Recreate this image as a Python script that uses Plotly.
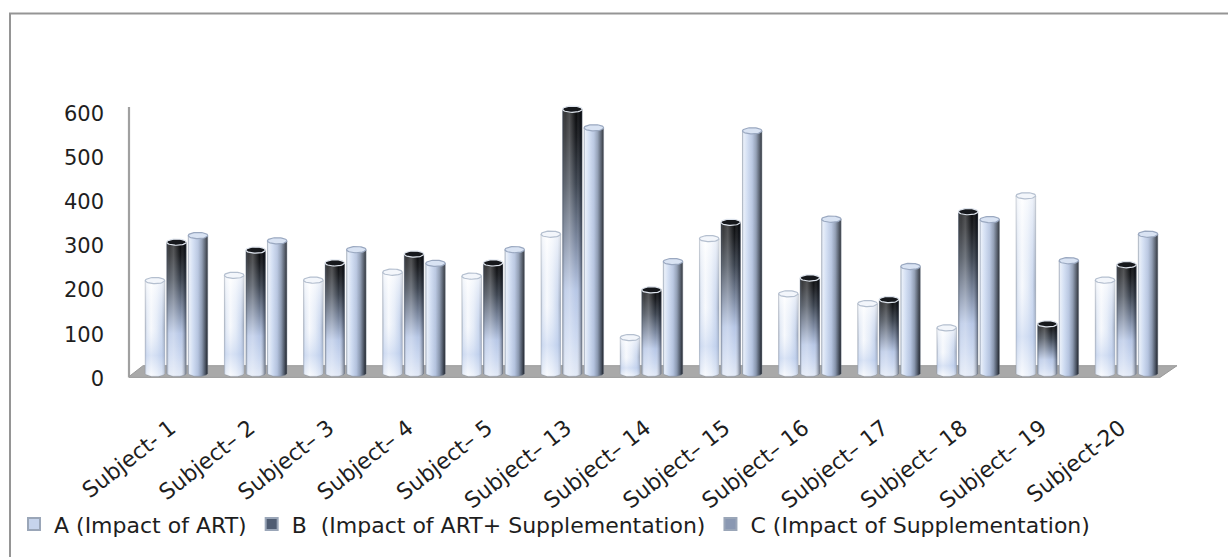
import numpy as np
import plotly.graph_objects as go

# ---- data -------------------------------------------------------------
subjects = ["Subject- 1", "Subject– 2", "Subject– 3", "Subject– 4", "Subject– 5",
            "Subject– 13", "Subject– 14", "Subject– 15", "Subject– 16", "Subject– 17",
            "Subject– 18", "Subject– 19", "Subject-20"]
impact_art = [210, 222, 211, 229, 220, 315, 81, 305, 180, 158, 103, 402, 211]
impact_art_supp = [297, 279, 250, 270, 250, 598, 189, 342, 216, 167, 366, 112, 246]
impact_supp = [312, 300, 280, 249, 280, 556, 253, 549, 349, 242, 348, 255, 315]
y_ticks = [0, 100, 200, 300, 400, 500, 600]
series_names = ["A (Impact of ART)",
                "B  (Impact of ART+ Supplementation)",
                "C (Impact of Supplementation)"]

# ---- geometry / style --------------------------------------------------
FONT = "DejaVu Sans"
TXT = "#1e1e1e"
X_RANGE = [-0.6, 12.637]
Y_RANGE = [-40, 612]
MARGIN = dict(l=129, r=51, t=103, b=158)
PLOT_H = 557 - MARGIN["t"] - MARGIN["b"]
UNITS_PER_PX = (Y_RANGE[1] - Y_RANGE[0]) / PLOT_H

BAR_W = 0.246          # cylinder width in category units
PITCH = 0.2716         # distance between cylinders of one group
CAP_H = 3.2 * UNITS_PER_PX   # half height of the elliptical caps

# shading of the cylinders
A_BODY = [[0.0, "#a7b2c3"], [0.08, "#e2e9f4"], [0.3, "#ffffff"],
          [0.6, "#e6edf8"], [0.85, "#c4d2eb"], [1.0, "#8794aa"]]
A_OVER = [[0.0, "rgba(245,248,253,0.55)"], [0.22, "rgba(190,207,238,0.55)"],
          [0.5, "rgba(225,233,247,0.25)"], [1.0, "rgba(255,255,255,0.7)"]]
B_BODY = [[0.0, "#e2e9f6"], [0.15, "#cbd8f0"], [0.32, "#b7c7e6"],
          [0.5, "#7d8aa2"], [0.72, "#3c4450"], [0.9, "#17191d"], [1.0, "#08090b"]]
B_OVER = [[0.0, "rgba(60,70,85,0.45)"], [0.12, "rgba(255,255,255,0.18)"],
          [0.35, "rgba(255,255,255,0.28)"], [0.7, "rgba(255,255,255,0.0)"],
          [0.9, "rgba(20,25,35,0.25)"], [1.0, "rgba(20,25,35,0.5)"]]
C_BODY = [[0.0, "#b9c4d4"], [0.07, "#e6edf8"], [0.25, "#cfdcf2"],
          [0.5, "#b3c2de"], [0.7, "#8896ae"], [0.88, "#47505f"], [1.0, "#1b1f26"]]
C_OVER = [[0.0, "rgba(255,255,255,0.0)"], [1.0, "rgba(255,255,255,0.12)"]]

series = [
    dict(values=impact_art, body=A_BODY, body_dir="horizontal",
         over=A_OVER, over_dir="vertical",
         cap_fill="#f3f6fb", cap_line="#b4bfcf", key="#c6d4ec"),
    dict(values=impact_art_supp, body=B_BODY, body_dir="vertical",
         over=B_OVER, over_dir="horizontal",
         cap_fill="#16181c", cap_line="#dfe5ee", key="#4f5c72"),
    dict(values=impact_supp, body=C_BODY, body_dir="horizontal",
         over=C_OVER, over_dir="vertical",
         cap_fill="#d9e3f3", cap_line="#9aa8c0", key="#8a98b2"),
]

fig = go.Figure()

t_half = np.linspace(0, np.pi, 24)
t_full = np.linspace(0, 2 * np.pi, 48)

for s_idx, s in enumerate(series):
    offset = (s_idx - 1) * PITCH
    for i, v in enumerate(s["values"]):
        xc = i + offset
        xl, xr = xc - BAR_W / 2, xc + BAR_W / 2
        # body: straight sides, elliptical bottom edge resting on the floor
        bx = [xl, xr] + list(xc + BAR_W / 2 * np.cos(t_half)) + [xl]
        by = [v, v] + list(-CAP_H * np.sin(t_half)) + [v]
        for grad, direction, line in ((s["body"], s["body_dir"], 0.8),
                                      (s["over"], s["over_dir"], 0)):
            if direction == "horizontal":
                start, stop = xl, xr
            else:
                start, stop = -CAP_H, v
            fig.add_trace(go.Scatter(
                x=bx, y=by, mode="lines", fill="toself",
                line=dict(color="rgba(120,130,148,0.55)", width=line),
                fillgradient=dict(type=direction, colorscale=grad,
                                  start=start, stop=stop),
                hoverinfo="skip", showlegend=False))
        # elliptical cap at the value
        fig.add_trace(go.Scatter(
            x=list(xc + BAR_W / 2 * np.cos(t_full)),
            y=list(v + CAP_H * np.sin(t_full)),
            mode="lines", fill="toself", fillcolor=s["cap_fill"],
            line=dict(color=s["cap_line"], width=1.2),
            hoverinfo="skip", showlegend=False))

# legend keys
for name, s in zip(series_names, series):
    fig.add_trace(go.Scatter(
        x=[None], y=[None], mode="markers", name=name,
        marker=dict(symbol="square", size=10, color=s["key"],
                    line=dict(color="#9aa6b8", width=0.5))))

# floor slab and back wall edge
px_x = lambda px: X_RANGE[0] + (px - MARGIN["l"]) / 79.17
px_y = lambda py: (557 - MARGIN["b"] - py) * UNITS_PER_PX + Y_RANGE[0]
floor = [(128, 385), (143, 373), (1177, 373), (1160, 385)]
path = "M " + " L ".join(f"{px_x(a):.4f},{px_y(b):.3f}" for a, b in floor) + " Z"
fig.add_shape(type="path", path=path, xref="x", yref="y", layer="below",
              fillcolor="#a9a9a9", line=dict(color="#9a9a9a", width=1))
fig.add_shape(type="line", xref="paper", yref="y", x0=0, x1=0,
              y0=px_y(385), y1=px_y(107), layer="below",
              line=dict(color="#a0a0a0", width=2.2))

# outer chart border (extends past the page edges on the right and bottom)
plot_w = 1228 - MARGIN["l"] - MARGIN["r"]
fig.add_shape(type="rect", xref="paper", yref="paper",
              x0=(10 - MARGIN["l"]) / plot_w, x1=1.3,
              y0=-1.0, y1=(557 - MARGIN["b"] - 11) / PLOT_H,
              line=dict(color="#959595", width=2), layer="below")

fig.update_layout(
    width=1228, height=557, margin=MARGIN,
    paper_bgcolor="white", plot_bgcolor="white",
    font=dict(family=FONT, size=22, color=TXT),
    showlegend=True,
    legend=dict(orientation="h", x=(14 - MARGIN["l"]) / plot_w, xanchor="left",
                y=(557 - MARGIN["b"] - 536) / PLOT_H, yanchor="middle",
                font=dict(family=FONT, size=22, color=TXT),
                itemsizing="constant", tracegroupgap=0,
                bgcolor="rgba(0,0,0,0)"),
    xaxis=dict(range=X_RANGE, tickmode="array", tickvals=list(range(len(subjects))),
               ticktext=subjects, tickangle=-38, showgrid=False, zeroline=False,
               showline=False, ticks="", ticklabelstandoff=19, ticklabelshift=-6,
               tickfont=dict(family=FONT, size=22, color=TXT), fixedrange=True),
    yaxis=dict(range=Y_RANGE, tickmode="array", tickvals=y_ticks,
               showgrid=False, zeroline=False, showline=False, ticks="",
               ticklabelstandoff=24, ticklabelshift=5,
               tickfont=dict(family=FONT, size=21, color=TXT), fixedrange=True),
)

fig.write_html("out.html")
